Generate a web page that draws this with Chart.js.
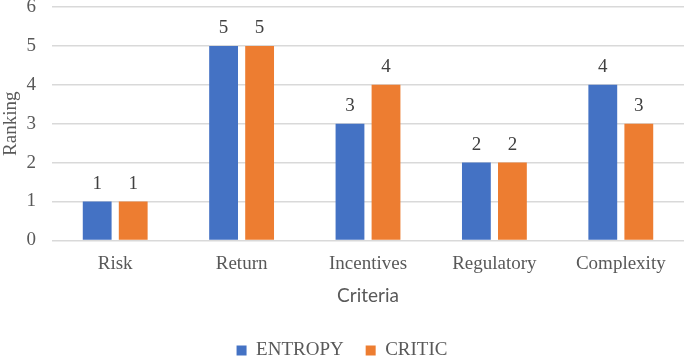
<!DOCTYPE html>
<html>
<head>
<meta charset="utf-8">
<script src="https://cdn.jsdelivr.net/npm/chart.js@4.4.0/dist/chart.umd.min.js"></script>
<style>
  html, body { margin: 0; padding: 0; background: #fff; }
  #wrap { width: 685px; height: 356px; }
</style>
</head>
<body>
<div id="wrap"><canvas id="myChart" width="685" height="356"></canvas></div>
<script>
var criteria = ['Risk', 'Return', 'Incentives', 'Regulatory', 'Complexity'];
var entropyRank = [1, 5, 3, 2, 4];
var criticRank = [1, 5, 4, 2, 3];
var yTicks = [0, 1, 2, 3, 4, 5, 6];

var serif = '"Liberation Serif", "Times New Roman", serif';
var textColor = '#595959';

// draws the value above each bar
var barLabels = {
    id: 'barLabels',
    afterDatasetsDraw: function (chart) {
        var ctx = chart.ctx;
        ctx.save();
        ctx.font = '19px ' + serif;
        ctx.fillStyle = '#404040';
        ctx.textAlign = 'center';
        ctx.textBaseline = 'alphabetic';
        chart.data.datasets.forEach(function (ds, i) {
            chart.getDatasetMeta(i).data.forEach(function (bar, j) {
                ctx.fillText(ds.data[j], bar.x, bar.y - 13);
            });
        });
        ctx.restore();
    }
};

var myChart = new Chart(document.getElementById('myChart').getContext('2d'), {
    type: 'bar',
    data: {
        labels: criteria,
        datasets: [{
            label: 'ENTROPY',
            data: entropyRank,
            backgroundColor: '#4472C4',
            borderWidth: 0
        }, {
            label: 'CRITIC',
            data: criticRank,
            backgroundColor: '#ED7D31',
            borderWidth: 0
        }]
    },
    options: {
        responsive: false,
        animation: false,
        datasets: {
            bar: { categoryPercentage: 0.57, barPercentage: 0.8 }
        },
        layout: { padding: { top: 7, right: 1, bottom: -14, left: 0 } },
        plugins: {
            tooltip: { enabled: false },
            legend: {
                position: 'bottom',
                labels: {
                    font: { family: serif, size: 19 },
                    color: textColor,
                    boxWidth: 10,
                    boxHeight: 10,
                    padding: 22
                }
            }
        },
        scales: {
            x: {
                grid: { display: false },
                border: { display: false },
                ticks: { font: { family: serif, size: 19 }, color: textColor, padding: 4 },
                title: {
                    display: true,
                    text: 'Criteria',
                    font: { family: 'Lato, "Open Sans", sans-serif', size: 19 },
                    color: textColor,
                    padding: { top: 5, bottom: 12 }
                }
            },
            y: {
                min: 0,
                max: 6,
                afterBuildTicks: function (axis) {
                    axis.ticks = yTicks.map(function (v) { return { value: v }; });
                },
                afterFit: function (axis) {
                    axis.width = 52;
                    axis.paddingTop = 0;
                    axis.paddingBottom = 0;
                },
                grid: { color: '#D9D9D9', lineWidth: 1.5, drawTicks: false },
                border: { display: false },
                ticks: { font: { family: serif, size: 19 }, color: textColor, padding: 16 },
                title: {
                    display: true,
                    text: 'Ranking',
                    font: { family: serif, size: 19 },
                    color: textColor,
                    padding: { top: 0, bottom: 0 }
                }
            }
        }
    },
    plugins: [barLabels]
});
</script>
</body>
</html>
